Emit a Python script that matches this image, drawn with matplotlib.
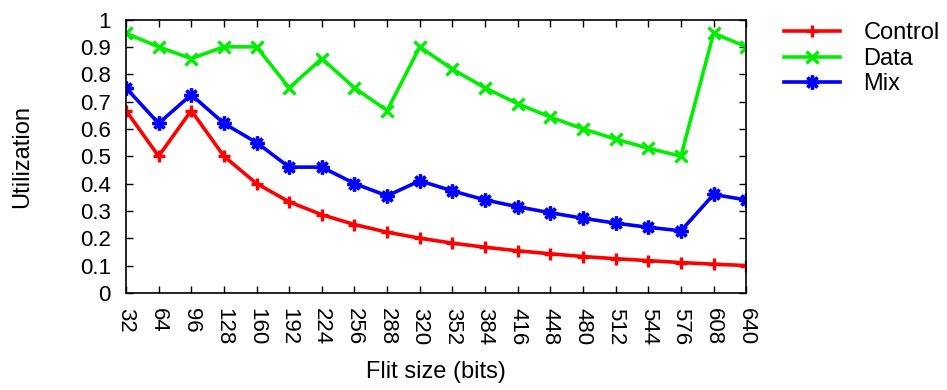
import matplotlib
matplotlib.use("Agg")
import matplotlib.pyplot as plt
import numpy as np

plt.rcParams['font.family'] = ['Liberation Sans', 'DejaVu Sans']

flit_sizes = [32, 64, 96, 128, 160, 192, 224, 256, 288, 320,
              352, 384, 416, 448, 480, 512, 544, 576, 608, 640]
control = [0.667, 0.5, 0.667, 0.5, 0.4, 0.333, 0.286, 0.25, 0.222, 0.2,
           0.182, 0.167, 0.154, 0.143, 0.133, 0.125, 0.118, 0.111, 0.105, 0.1]
data = [0.95, 0.9, 0.857, 0.9, 0.9, 0.75, 0.857, 0.75, 0.667, 0.9,
        0.818, 0.75, 0.692, 0.643, 0.6, 0.5625, 0.529, 0.5, 0.95, 0.9]
mix = [0.75, 0.62, 0.725, 0.62, 0.55, 0.46, 0.46, 0.4, 0.355, 0.41,
       0.373, 0.34, 0.315, 0.293, 0.273, 0.255, 0.24, 0.227, 0.36, 0.34]

fig = plt.figure(figsize=(9.47, 3.9), dpi=100)
ax = fig.add_axes([0.133, 0.249, 0.655, 0.701])

x = np.arange(len(flit_sizes))
ax.plot(x, control, color='#ff0000', lw=2.6, marker='+', ms=9, mew=2.4, label='Control')
ax.plot(x, data, color='#00ee00', lw=2.6, marker='x', ms=9, mew=2.4, label='Data')
ax.plot(x, mix, color='#0000ff', lw=2.6, marker=(8, 2, 0), ms=10, mew=2.4, label='Mix')

ax.set_xlim(0, len(flit_sizes) - 1)
ax.set_ylim(0, 1)
ax.set_xticks(x)
ax.set_xticklabels([str(s) for s in flit_sizes], rotation=-90)
ax.set_yticks(np.arange(0, 1.01, 0.1))
ax.set_yticklabels(['0'] + ['%.1f' % v for v in np.arange(0.1, 0.95, 0.1)] + ['1'])
ax.tick_params(direction='in', top=True, right=True, labelsize=16, length=5, width=1)
ax.tick_params(axis='x', pad=11)
ax.tick_params(axis='y', pad=11)
for sp in ax.spines.values():
    sp.set_linewidth(1.2)

ax.set_xlabel('Flit size (bits)', fontsize=17)
ax.set_ylabel('Utilization', fontsize=17)
ax.xaxis.set_label_coords(0.5, -0.25)
ax.yaxis.set_label_coords(-0.15, 0.5)

ax.legend(loc='upper left', bbox_to_anchor=(1.035, 1.05), frameon=False, fontsize=17,
          handlelength=2.35, labelspacing=0.15, handletextpad=1.0, borderpad=0.2)

fig.savefig('out.png', dpi=100)
